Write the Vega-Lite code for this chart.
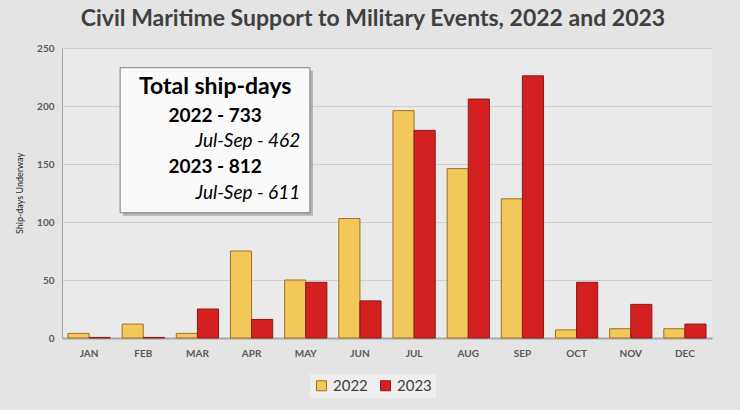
{
  "$schema": "https://vega.github.io/schema/vega-lite/v6.json",
  "autosize": {"type": "none"},
  "width": 650,
  "height": 290,
  "padding": {"left": 62, "top": 48, "right": 28, "bottom": 72},
  "background": "#e4e4e4",
  "config": {
    "view": {"stroke": null, "fill": "#eaeaea"},
    "font": "Lato"
  },
  "title": {
    "text": "Civil Maritime Support to Military Events, 2022 and 2023",
    "fontSize": 23,
    "font": "Lato",
    "fontWeight": "bold",
    "color": "#404040",
    "anchor": "middle",
    "dx": -14,
    "offset": 12
  },
  "datasets": {
    "ships": [
      {"month": "JAN", "year": "2022", "days": 4},
      {"month": "FEB", "year": "2022", "days": 12},
      {"month": "MAR", "year": "2022", "days": 4},
      {"month": "APR", "year": "2022", "days": 75},
      {"month": "MAY", "year": "2022", "days": 50},
      {"month": "JUN", "year": "2022", "days": 103},
      {"month": "JUL", "year": "2022", "days": 196},
      {"month": "AUG", "year": "2022", "days": 146},
      {"month": "SEP", "year": "2022", "days": 120},
      {"month": "OCT", "year": "2022", "days": 7},
      {"month": "NOV", "year": "2022", "days": 8},
      {"month": "DEC", "year": "2022", "days": 8},
      {"month": "JAN", "year": "2023", "days": 0.5},
      {"month": "FEB", "year": "2023", "days": 0.5},
      {"month": "MAR", "year": "2023", "days": 25},
      {"month": "APR", "year": "2023", "days": 16},
      {"month": "MAY", "year": "2023", "days": 48},
      {"month": "JUN", "year": "2023", "days": 32},
      {"month": "JUL", "year": "2023", "days": 179},
      {"month": "AUG", "year": "2023", "days": 206},
      {"month": "SEP", "year": "2023", "days": 226},
      {"month": "OCT", "year": "2023", "days": 48},
      {"month": "NOV", "year": "2023", "days": 29},
      {"month": "DEC", "year": "2023", "days": 12}
    ],
    "note": [
      {"line": "Total ship-days", "kind": "head", "pos": 216},
      {"line": "2022 - 733", "kind": "year", "pos": 191},
      {"line": "Jul-Sep - 462", "kind": "sub", "pos": 170},
      {"line": "2023 - 812", "kind": "year", "pos": 147},
      {"line": "Jul-Sep - 611", "kind": "sub", "pos": 125}
    ],
    "box": [{"label": "Total ship-days"}]
  },
  "encoding": {
    "x": {
      "field": "month",
      "type": "nominal",
      "sort": ["JAN","FEB","MAR","APR","MAY","JUN","JUL","AUG","SEP","OCT","NOV","DEC"],
      "scale": {"paddingInner": 0.22, "paddingOuter": 0.11},
      "axis": {
        "title": null,
        "labelAngle": 0,
        "labelFont": "Lato",
        "labelFontWeight": "bold",
        "labelFontSize": 10,
        "labelColor": "#595959",
        "labelPadding": 10,
        "ticks": false,
        "domainColor": "#a6a6a6",
        "domainWidth": 2
      }
    }
  },
  "layer": [
    {
      "data": {"name": "ships"},
      "mark": {"type": "bar", "strokeWidth": 1},
      "encoding": {
        "xOffset": {"field": "year", "type": "nominal", "scale": {"paddingInner": 0, "paddingOuter": 0}},
        "y": {
          "field": "days",
          "type": "quantitative",
          "scale": {"domain": [0, 250], "nice": false},
          "axis": {
            "title": "Ship-days Underway",
            "titleFont": "Lato",
            "titleFontSize": 9,
            "titleFontWeight": "normal",
            "titleColor": "#262626",
            "titlePadding": 12,
            "values": [0, 50, 100, 150, 200, 250],
            "labelFont": "Lato",
            "labelFontWeight": "bold",
            "labelFontSize": 10,
            "labelColor": "#595959",
            "labelPadding": 8,
            "ticks": false,
            "domain": true,
            "domainColor": "#a6a6a6",
            "gridColor": "#cfcfcf",
            "gridWidth": 1
          }
        },
        "color": {
          "field": "year",
          "type": "nominal",
          "scale": {"domain": ["2022", "2023"], "range": ["#f2c85a", "#d42020"]},
          "legend": {
            "title": null,
            "orient": "none",
            "legendX": 248,
            "legendY": 326,
            "direction": "horizontal",
            "symbolType": "square",
            "symbolSize": 100,
            "symbolStrokeWidth": 1,
            "labelFont": "Lato",
            "labelFontSize": 15,
            "labelColor": "#404040",
            "columnPadding": 10,
            "padding": 4,
            "fillColor": "#eeeeee"
          }
        },
        "stroke": {
          "field": "year",
          "type": "nominal",
          "scale": {"domain": ["2022", "2023"], "range": ["#a07020", "#8a1a1a"]},
          "legend": null
        }
      }
    },
    {
      "data": {"name": "box"},
      "mark": {"type": "rect", "fill": "#8c8c8c", "opacity": 0.6, "xOffset": 1, "x2Offset": -47, "yOffset": 3, "y2Offset": 3},
      "encoding": {
        "x": {"datum": "FEB", "bandPosition": 0},
        "x2": {"datum": "JUN"},
        "y": {"datum": 108},
        "y2": {"datum": 233}
      }
    },
    {
      "data": {"name": "box"},
      "mark": {"type": "rect", "fill": "#fafafa", "stroke": "#7f7f7f", "strokeWidth": 1, "xOffset": -2, "x2Offset": -50},
      "encoding": {
        "x": {"datum": "FEB", "bandPosition": 0},
        "x2": {"datum": "JUN"},
        "y": {"datum": 108},
        "y2": {"datum": 233}
      }
    },
    {
      "data": {"name": "note"},
      "transform": [{"filter": "datum.kind === 'head'"}],
      "mark": {"type": "text", "font": "Lato", "fontWeight": "bold", "fontSize": 23, "color": "#000000", "align": "center", "baseline": "middle"},
      "encoding": {
        "x": {"datum": "MAR", "bandPosition": 0.92},
        "y": {"field": "pos", "type": "quantitative"},
        "text": {"field": "line"}
      }
    },
    {
      "data": {"name": "note"},
      "transform": [{"filter": "datum.kind === 'year'"}],
      "mark": {"type": "text", "font": "Lato", "fontWeight": "bold", "fontSize": 19, "color": "#000000", "align": "center", "baseline": "middle"},
      "encoding": {
        "x": {"datum": "MAR", "bandPosition": 0.92},
        "y": {"field": "pos", "type": "quantitative"},
        "text": {"field": "line"}
      }
    },
    {
      "data": {"name": "note"},
      "transform": [{"filter": "datum.kind === 'sub'"}],
      "mark": {"type": "text", "font": "Lato", "fontStyle": "italic", "fontSize": 19, "color": "#000000", "align": "right", "baseline": "middle"},
      "encoding": {
        "x": {"datum": "MAY", "bandPosition": 0.37},
        "y": {"field": "pos", "type": "quantitative"},
        "text": {"field": "line"}
      }
    }
  ]
}
